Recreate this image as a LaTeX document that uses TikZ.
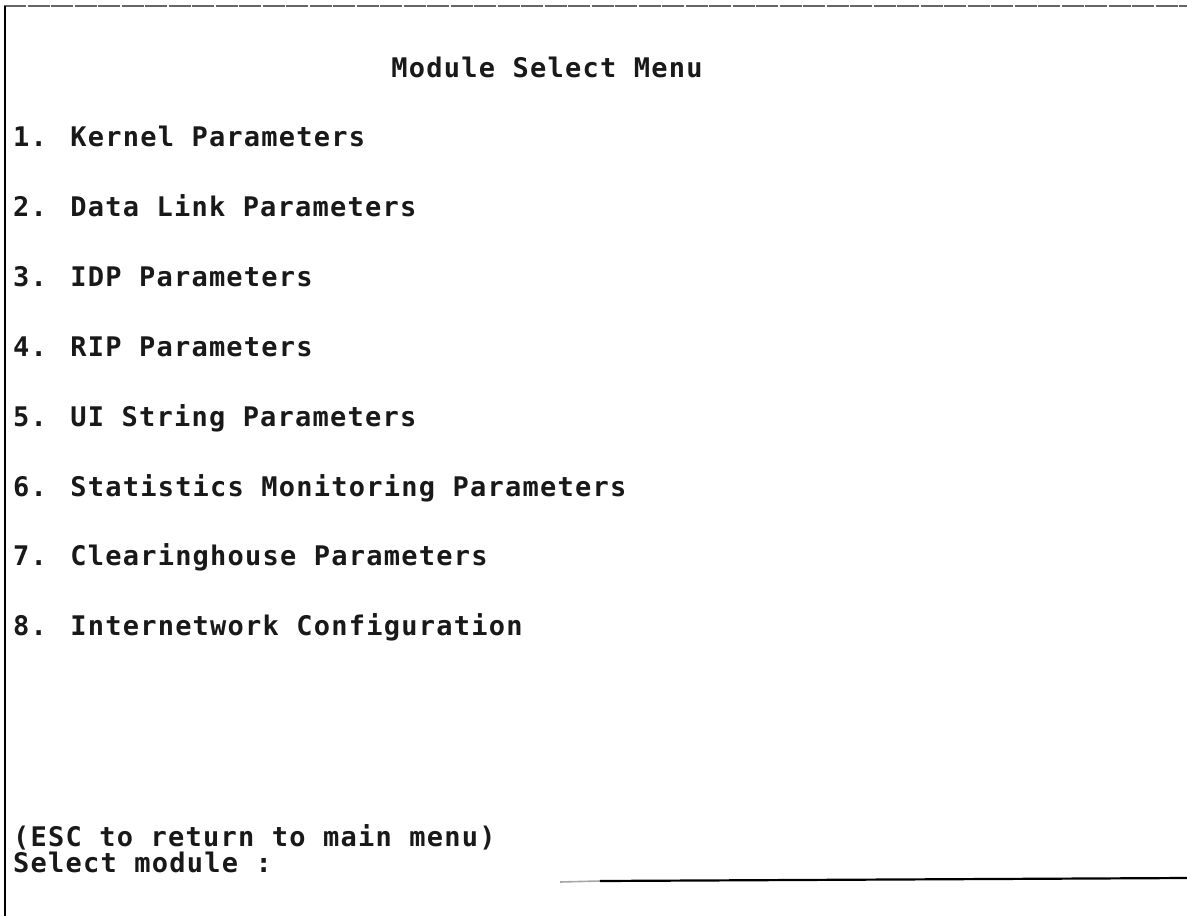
\documentclass[tikz,border=0pt]{standalone}
\usepackage{fontspec}
% terminal face: a sans monospace, opened up to a 17.5pt character pitch
\newfontfamily\termfont[LetterSpace=4.6]{DejaVu Sans Mono Bold}
\begin{document}
\begin{tikzpicture}[x=1pt,y=-1pt,
  screen/.style={font=\termfont\fontsize{27}{27}\selectfont, inner sep=0pt, text=black!90},
  menuline/.style={screen, anchor=base west},
  frametop/.style={draw=black!60, line width=1.2pt, dash pattern=on 22pt off 1.5pt},
  frameleft/.style={draw=black, line width=2.6pt},
  framebottom/.style={draw=black, line width=2.2pt}]
  % page extent
  \useasboundingbox (0,0) rectangle (1187,916);
  % screen frame
  \coordinate (tl) at (4,6);
  \coordinate (tr) at (1187,6);
  \coordinate (bl) at (5,916);
  \coordinate (bfade) at (560,882);
  \coordinate (bs) at (600,881);
  \coordinate (br) at (1187,878);
  \draw[frametop] (tl) -- (tr);
  \draw[frameleft] (5,6) -- (bl);
  \draw[draw=black!35, line width=1.6pt] (bfade) -- (bs);
  \draw[framebottom] (bs) -- (br);
  % heading
  \node[screen, anchor=base] (title) at (547,77) {Module Select Menu};
  % menu entries
  \node[menuline] (item1) at (13,146) {1. Kernel Parameters};
  \node[menuline] (item2) at (13,216) {2. Data Link Parameters};
  \node[menuline] (item3) at (13,286) {3. IDP Parameters};
  \node[menuline] (item4) at (13,356) {4. RIP Parameters};
  \node[menuline] (item5) at (13,426) {5. UI String Parameters};
  \node[menuline] (item6) at (13,496) {6. Statistics Monitoring Parameters};
  \node[menuline] (item7) at (13,565) {7. Clearinghouse Parameters};
  \node[menuline] (item8) at (13,635) {8. Internetwork Configuration};
  % prompt lines
  \node[menuline] (esc) at (13,846) {(ESC to return to main menu)};
  \node[menuline] (prompt) at (13,872) {Select module :};
\end{tikzpicture}
\end{document}
